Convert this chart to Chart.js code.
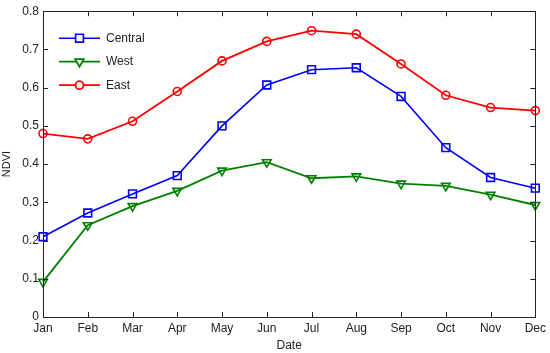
<!DOCTYPE html>
<html>
<head>
<meta charset="utf-8">
<script src="https://cdn.jsdelivr.net/npm/chart.js@4"></script>
<style>
  html, body { margin: 0; padding: 0; background: #fff; }
  #wrap { width: 550px; height: 353px; }
</style>
</head>
<body>
<div id="wrap"><canvas id="line-chart"></canvas></div>
<script>
var months = ["Jan", "Feb", "Mar", "Apr", "May", "Jun", "Jul", "Aug", "Sep", "Oct", "Nov", "Dec"];
var central = [0.21, 0.272, 0.322, 0.37, 0.50, 0.607, 0.647, 0.652, 0.577, 0.443, 0.365, 0.337];
var west = [0.092, 0.24, 0.29, 0.33, 0.383, 0.405, 0.363, 0.368, 0.349, 0.343, 0.32, 0.293];
var east = [0.48, 0.466, 0.512, 0.59, 0.67, 0.721, 0.749, 0.74, 0.662, 0.58, 0.548, 0.54];

var FONT = "Liberation Sans, Arial, sans-serif";

// frame, inward ticks, and legend inside the plot (MATLAB look)
var matlabBox = {
    id: "matlabBox",
    afterDraw: function (chart) {
        var ctx = chart.ctx;
        var a = chart.chartArea;
        var xs = chart.scales.x, ys = chart.scales.y;
        ctx.save();
        ctx.strokeStyle = "#222";
        ctx.lineWidth = 1;
        ctx.strokeRect(Math.round(a.left) + 0.5, Math.round(a.top) + 0.5,
            Math.round(a.right - a.left), Math.round(a.bottom - a.top));
        ctx.beginPath();
        for (var i = 0; i < xs.ticks.length; i++) {
            var px = Math.round(xs.getPixelForTick(i)) + 0.5;
            ctx.moveTo(px, a.bottom); ctx.lineTo(px, a.bottom - 5);
            ctx.moveTo(px, a.top); ctx.lineTo(px, a.top + 5);
        }
        for (var j = 0; j < ys.ticks.length; j++) {
            var py = Math.round(ys.getPixelForValue(ys.ticks[j].value)) + 0.5;
            ctx.moveTo(a.left, py); ctx.lineTo(a.left + 5, py);
            ctx.moveTo(a.right, py); ctx.lineTo(a.right - 5, py);
        }
        ctx.stroke();

        // legend
        ctx.font = "12px " + FONT;
        ctx.textBaseline = "middle";
        chart.data.datasets.forEach(function (ds, k) {
            var y = a.top + 27 + k * 23.5;
            var x0 = a.left + 16, x1 = a.left + 57;
            ctx.strokeStyle = ds.borderColor;
            ctx.lineWidth = ds.borderWidth;
            ctx.beginPath(); ctx.moveTo(x0, y); ctx.lineTo(x1, y); ctx.stroke();
            ctx.fillStyle = "#ffffff";
            Chart.helpers.drawPoint(ctx, {
                pointStyle: ds.pointStyle, rotation: ds.pointRotation || 0,
                radius: ds.pointRadius, borderWidth: ds.pointBorderWidth
            }, (x0 + x1) / 2, y);
            ctx.fillStyle = "#222";
            ctx.fillText(ds.label, x1 + 6, y);
        });
        ctx.restore();
    }
};

function renderChart() {
    new Chart(document.getElementById("line-chart"), {
        type: "line",
        data: {
            labels: months,
            datasets: [
                {
                    label: "Central", data: central,
                    borderColor: "#0000ff", backgroundColor: "rgba(0,0,0,0)",
                    borderWidth: 1.6, pointStyle: "rect", pointRadius: 5.5,
                    pointBorderWidth: 1.6, pointBackgroundColor: "rgba(0,0,0,0)",
                    fill: false
                },
                {
                    label: "West", data: west,
                    borderColor: "#008000", backgroundColor: "rgba(0,0,0,0)",
                    borderWidth: 1.8, pointStyle: "triangle", pointRotation: 180, pointRadius: 5,
                    pointBorderWidth: 1.6, pointBackgroundColor: "rgba(0,0,0,0)",
                    fill: false
                },
                {
                    label: "East", data: east,
                    borderColor: "#ff0000", backgroundColor: "rgba(0,0,0,0)",
                    borderWidth: 1.8, pointStyle: "circle", pointRadius: 4,
                    pointBorderWidth: 1.6, pointBackgroundColor: "rgba(0,0,0,0)",
                    fill: false
                }
            ]
        },
        options: {
            responsive: true,
            maintainAspectRatio: false,
            animation: false,
            layout: { padding: { top: 9, right: 12, left: 0, bottom: 0 } },
            plugins: { legend: { display: false }, tooltip: { enabled: false } },
            elements: { line: { tension: 0 } },
            scales: {
                x: {
                    offset: false,
                    grid: { display: false, drawTicks: false },
                    border: { display: false },
                    ticks: { color: "#222", font: { family: FONT, size: 12 }, padding: 4, maxRotation: 0, autoSkip: false },
                    title: { display: true, text: "Date", color: "#222", font: { family: FONT, size: 12 }, padding: 0 },
                    afterFit: function (s) { s.height = 36; }
                },
                y: {
                    min: 0, max: 0.8,
                    grid: { display: false, drawTicks: false },
                    border: { display: false },
                    ticks: { stepSize: 0.1, color: "#222", font: { family: FONT, size: 12 }, padding: 4 },
                    title: { display: true, text: "NDVI", color: "#222", font: { family: FONT, size: 11 }, padding: 0 },
                    afterFit: function (s) { s.width = 43; }
                }
            }
        },
        plugins: [matlabBox]
    });
}

renderChart();
</script>
</body>
</html>
